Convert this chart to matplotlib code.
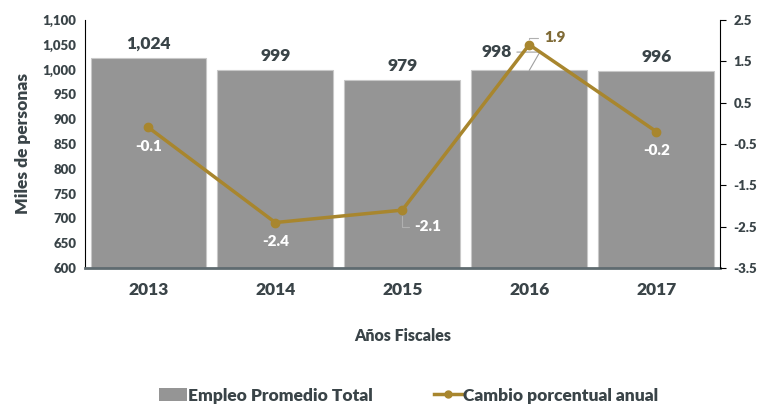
import matplotlib.pyplot as plt
import numpy as np
from matplotlib.patches import Patch
from matplotlib.lines import Line2D

plt.rcParams['font.family'] = ['Lato', 'DejaVu Sans']
plt.rcParams['font.weight'] = 'bold'
plt.rcParams['axes.labelweight'] = 'bold'

years = ['2013', '2014', '2015', '2016', '2017']
empleo = [1024, 999, 979, 998, 996]
cambio = [-0.1, -2.4, -2.1, 1.9, -0.2]
empleo_labels = ['1,024', '999', '979', '998', '996']
cambio_labels = ['-0.1', '-2.4', '-2.1', '1.9', '-0.2']

txt = '#3A4448'
bar_c = '#959595'
gold = '#A8862E'

fig = plt.figure(figsize=(7.64, 4.13), dpi=100)
ax = fig.add_axes([0.111, 0.351, 0.831, 0.601])
x = np.arange(len(years))
ax.bar(x, empleo, width=0.91, color=bar_c, edgecolor='#C8C8C8', linewidth=0.8, zorder=2)
ax.set_ylim(600, 1100)
ax.set_xlim(-0.5, 4.5)
ax.set_yticks(np.arange(600, 1101, 50))
ax.set_yticklabels([f'{v:,}' for v in range(600, 1101, 50)], fontweight='heavy')
ax.set_xticks(x)
ax.set_xticklabels(years, fontsize=12.5, color=txt, fontweight='heavy')
ax.tick_params(axis='y', labelsize=9.5, colors=txt, length=0, pad=6)
ax.tick_params(axis='x', length=0, pad=10)
ax.set_ylabel('Miles de personas', fontsize=12.5, color=txt, labelpad=8, fontweight='heavy')
ax.set_xlabel('Años Fiscales', fontsize=11.5, color=txt, labelpad=22, fontweight='heavy')
for s in ['top', 'right']:
    ax.spines[s].set_visible(False)
ax.spines['left'].set_color('black')
ax.spines['left'].set_linewidth(0.8)
ax.spines['bottom'].set_color('#5F6B70')
ax.spines['bottom'].set_linewidth(2)

# bar value labels
for i, (v, lab) in enumerate(zip(empleo, empleo_labels)):
    if i == 3:
        ax.annotate(lab, xy=(i, v), xytext=(i - 0.26, v + 37),
                    ha='center', va='center', fontsize=12.5, color=txt, fontweight='heavy',
                    arrowprops=dict(arrowstyle='-', color='#A0A0A0', lw=0.8, shrinkA=2, shrinkB=0,
                                    connectionstyle='angle,angleA=0,angleB=60,rad=0'))
    else:
        ax.text(i, v + 12, lab, ha='center', va='bottom', fontsize=12.5, color=txt, fontweight='heavy')

ax2 = ax.twinx()
ax2.plot(x, cambio, color=gold, lw=2.5, marker='o', ms=6, zorder=3)
ax2.set_ylim(-3.5, 2.5)
ax2.set_yticks(np.arange(-3.5, 2.6, 1))
ax2.set_yticklabels([f'{v:.1f}' for v in np.arange(-3.5, 2.6, 1)], fontweight='heavy')
ax2.tick_params(axis='y', labelsize=9.5, labelcolor=txt, color='black', length=4, width=0.8, pad=6)
for s in ['top', 'left', 'bottom']:
    ax2.spines[s].set_visible(False)
ax2.spines['right'].set_color('black')
ax2.spines['right'].set_linewidth(0.8)

for i, (v, lab) in enumerate(zip(cambio, cambio_labels)):
    if i == 2:
        ax2.annotate(lab, xy=(i, v), xytext=(i + 0.2, v - 0.4),
                     ha='center', va='center', fontsize=11, color='white', fontweight='heavy',
                     arrowprops=dict(arrowstyle='-', color='#B0B0B0', lw=0.8, shrinkB=4,
                                     connectionstyle='angle,angleA=0,angleB=90,rad=0'))
    elif i == 3:
        ax2.annotate(lab, xy=(i, v), xytext=(i + 0.2, v + 0.17),
                     ha='center', va='center', fontsize=11, color='#7F6A35', fontweight='heavy',
                     arrowprops=dict(arrowstyle='-', color='#B0B0B0', lw=0.8, shrinkB=4,
                                     connectionstyle='angle,angleA=0,angleB=90,rad=0'))
    else:
        ax2.text(i, v - 0.3, lab, ha='center', va='top', fontsize=11, color='white', fontweight='heavy')

handles = [Patch(facecolor=bar_c, label='Empleo Promedio Total'),
           Line2D([0], [0], color=gold, lw=2.5, marker='o', ms=5, label='Cambio porcentual anual')]
leg = fig.legend(handles=handles, loc='lower center', bbox_to_anchor=(0.535, -0.015), ncol=2,
                 frameon=False, handlelength=1.6, handletextpad=0.1, columnspacing=3.5,
                 prop={'size': 12.5, 'weight': 'heavy'})
for t in leg.get_texts():
    t.set_color(txt)

fig.savefig('out.png', dpi=100)
